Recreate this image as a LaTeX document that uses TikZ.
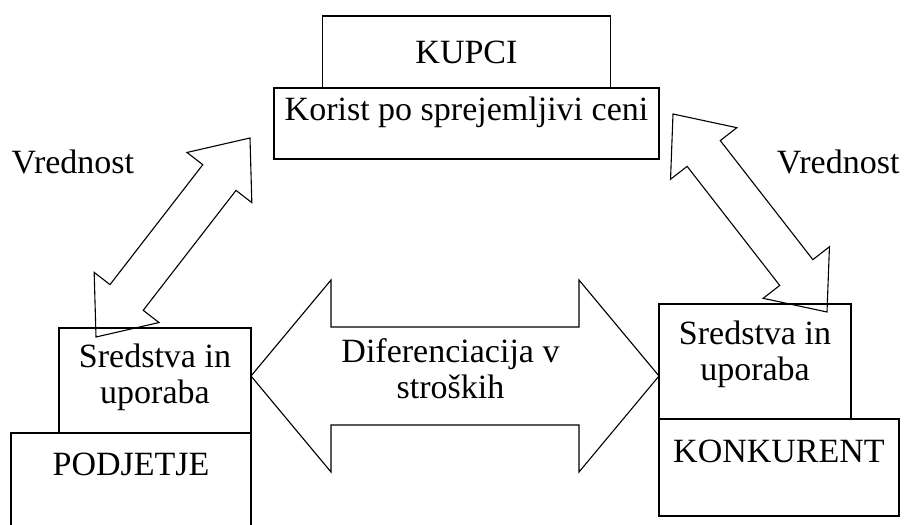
\documentclass[tikz,border=0pt]{standalone}
\usepackage{fontspec}
\setmainfont{Liberation Serif}
\usetikzlibrary{positioning, calc}

% block arrow with a head at both ends: from, to, head length, half head width, half shaft width
\newcommand{\dblarrow}[5]{%
  \draw[blockarrow] (#1)
    -- ($(#1)!#3!(#2)!#4!90:(#2)$) -- ($(#1)!#3!(#2)!#5!90:(#2)$)
    -- ($(#2)!#3!(#1)!#5!-90:(#1)$) -- ($(#2)!#3!(#1)!#4!-90:(#1)$)
    -- (#2)
    -- ($(#2)!#3!(#1)!#4!90:(#1)$) -- ($(#2)!#3!(#1)!#5!90:(#1)$)
    -- ($(#1)!#3!(#2)!#5!-90:(#2)$) -- ($(#1)!#3!(#2)!#4!-90:(#2)$)
    -- cycle;}

\begin{document}
\begin{tikzpicture}[x=1pt, y=-1pt, line width=1.1pt,
    font=\fontsize{34}{36}\selectfont, align=center]

    \tikzset{
      box/.style = {shape=rectangle, draw, inner sep=0pt, outer sep=0pt},
      txt/.style = {inner sep=0pt},
      blockarrow/.style = {draw, line join=miter},
    }

    \useasboundingbox (0,0) rectangle (906,525);
    \clip (0,0) rectangle (906,525);

    \node[box, minimum width=385pt, text height=32pt, text depth=39pt] (korist) at (466.5,123.5) {Korist po sprejemljivi ceni};
    \node[box, minimum width=288pt, text height=47pt, text depth=25pt, above=0pt of korist] (kupci) {KUPCI};

    % multi-line nodes: text height is measured to the last line
    \node[box, minimum width=192pt, text height=75pt, text depth=30pt] (lsred) at (155,380.5) {Sredstva in\\uporaba};
    \node[box, minimum width=240pt, text height=42pt, text depth=85pt, below left=0pt of lsred.south east] (podjetje) {PODJETJE};

    \node[box, minimum width=192pt, text height=76pt, text depth=39pt] (rsred) at (755,361.5) {Sredstva in\\uporaba};
    \node[box, minimum width=240pt, text height=43pt, text depth=54pt, below right=0pt of rsred.south west] (konkurent) {KONKURENT};

    \node[txt, anchor=base west] (lvred) at (11,173) {Vrednost};
    \node[txt, anchor=base east] (dvred) at (900,173) {Vrednost};

    \coordinate (l1) at (96,337);
    \coordinate (l2) at (250,138);
    \coordinate (d1) at (673,114);
    \coordinate (d2) at (827,312);
    \coordinate (s1) at (251,376);
    \coordinate (s2) at (659,376);

    \dblarrow{l1}{l2}{50pt}{41pt}{21pt}
    \dblarrow{d1}{d2}{50pt}{42pt}{21pt}
    \dblarrow{s1}{s2}{80pt}{96pt}{49pt}

    \node[txt, anchor=base] (difer) at (450.5,398) {Diferenciacija v\\stroških};

  \end{tikzpicture}
\end{document}
